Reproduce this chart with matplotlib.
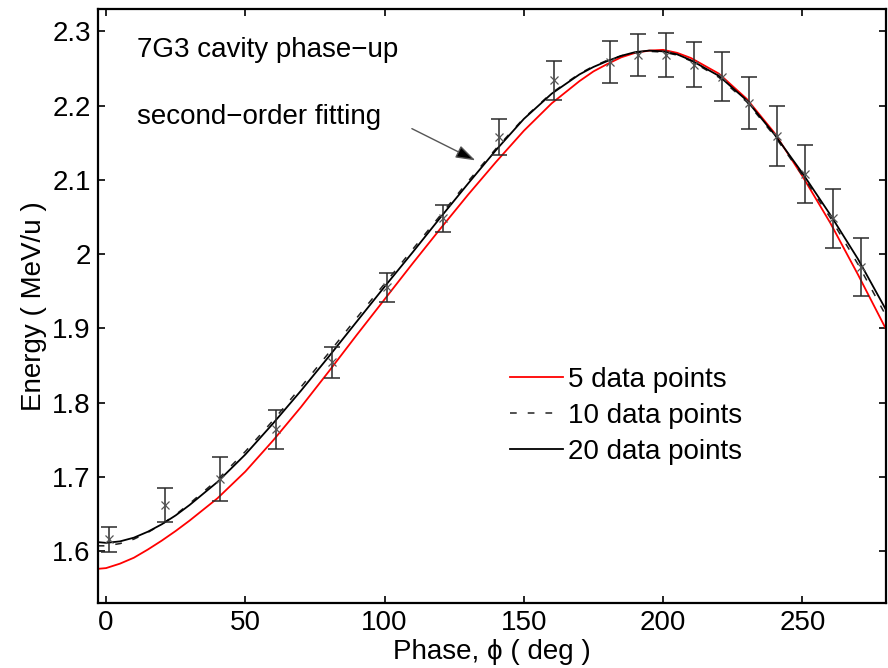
import matplotlib
matplotlib.use("Agg")
import matplotlib.pyplot as plt

plt.rcParams['font.family'] = ['Liberation Sans', 'DejaVu Sans']

# measured points with error bars
phase_pts = [1, 21, 41, 61, 81, 101, 121, 141, 161, 181, 191, 201, 211, 221, 231, 241, 251, 261, 271]
energy_pts = [1.616, 1.662, 1.697, 1.764, 1.854, 1.955, 2.048, 2.158, 2.234, 2.259, 2.268, 2.268,
              2.255, 2.239, 2.203, 2.159, 2.108, 2.048, 1.982]
energy_err = [0.017, 0.023, 0.030, 0.026, 0.021, 0.019, 0.018, 0.024, 0.026, 0.028, 0.028, 0.030,
              0.030, 0.033, 0.035, 0.040, 0.039, 0.040, 0.039]

# fitted curves
phase_fit = [-3, 0, 5, 10, 15, 20, 25, 30, 40, 50, 60, 70, 80, 90, 100, 110, 120, 130, 140, 150,
             160, 170, 175, 180, 185, 190, 195, 200, 205, 210, 220, 230, 240, 250, 260, 270, 280]
fit_5 = [1.576, 1.577, 1.583, 1.591, 1.602, 1.614, 1.627, 1.641, 1.671, 1.707, 1.749, 1.794,
         1.842, 1.891, 1.939, 1.987, 2.034, 2.080, 2.124, 2.166, 2.203, 2.233, 2.246, 2.256, 2.265,
         2.271, 2.274, 2.275, 2.271, 2.264, 2.243, 2.209, 2.163, 2.105, 2.042, 1.972, 1.899]
fit_10 = [1.607, 1.607, 1.610, 1.616, 1.625, 1.636, 1.649, 1.664, 1.696, 1.734, 1.776, 1.821,
          1.867, 1.914, 1.960, 2.006, 2.052, 2.098, 2.142, 2.183, 2.217, 2.243, 2.253, 2.261, 2.267,
          2.271, 2.273, 2.272, 2.268, 2.260, 2.238, 2.205, 2.159, 2.106, 2.049, 1.986, 1.917]
fit_20 = [1.612, 1.611, 1.613, 1.618, 1.626, 1.636, 1.648, 1.662, 1.693, 1.730, 1.772, 1.816,
          1.862, 1.909, 1.956, 2.002, 2.049, 2.095, 2.140, 2.182, 2.216, 2.242, 2.252, 2.260, 2.267,
          2.272, 2.274, 2.273, 2.269, 2.261, 2.240, 2.207, 2.161, 2.109, 2.053, 1.993, 1.925]

fig = plt.figure(figsize=(8.88, 6.68), dpi=100)
ax = fig.add_axes([0.110, 0.0973, 0.8877, 0.8892])

ax.plot(phase_fit, fit_5, color='red', lw=1.3, label='5 data points')
ax.plot(phase_fit, fit_10, color='#222222', lw=1.1, linestyle=(0, (4.4, 7.2)), label='10 data points')
ax.plot(phase_fit, fit_20, color='black', lw=1.3, label='20 data points')

ax.errorbar(phase_pts, energy_pts, yerr=energy_err, fmt='none', ecolor='#2a2a2a',
            elinewidth=1.1, capsize=6, capthick=1.1)
ax.plot(phase_pts, energy_pts, 'x', color='#555555', ms=5.5, mew=0.9)

ax.set_xlim(-3, 280)
ax.set_ylim(1.53, 2.33)
ax.set_xticks([0, 50, 100, 150, 200, 250])
ax.set_yticks([1.6, 1.7, 1.8, 1.9, 2.0, 2.1, 2.2, 2.3])
ax.set_yticklabels(['1.6', '1.7', '1.8', '1.9', '2', '2.1', '2.2', '2.3'])
ax.tick_params(direction='in', length=5, width=1.2, labelsize=20, top=True, right=True, pad=5)
for s in ax.spines.values():
    s.set_linewidth(1.6)

ax.set_xlabel('Phase, ϕ ( deg )', fontsize=20, labelpad=2)
ax.set_ylabel('Energy ( MeV/u )', fontsize=20, labelpad=4)

ax.text(11, 2.2744, '7G3 cavity phase\u2212up', fontsize=20, va='center', ha='left')
ax.text(11, 2.184, 'second\u2212order fitting', fontsize=20, va='center', ha='left')
ax.annotate('', xy=(132.6, 2.1261), xytext=(109.8, 2.1689),
            arrowprops=dict(arrowstyle='-|>,head_length=1.2,head_width=0.4',
                            ec='#555555', fc='black', lw=1.0, shrinkA=0, shrinkB=0))

ax.legend(loc='upper left', bbox_to_anchor=(0.523, 0.397), frameon=False, fontsize=20,
          handlelength=1.9, handletextpad=0.2, labelspacing=0.36, borderpad=0, borderaxespad=0)

fig.savefig('out.png', dpi=100)
